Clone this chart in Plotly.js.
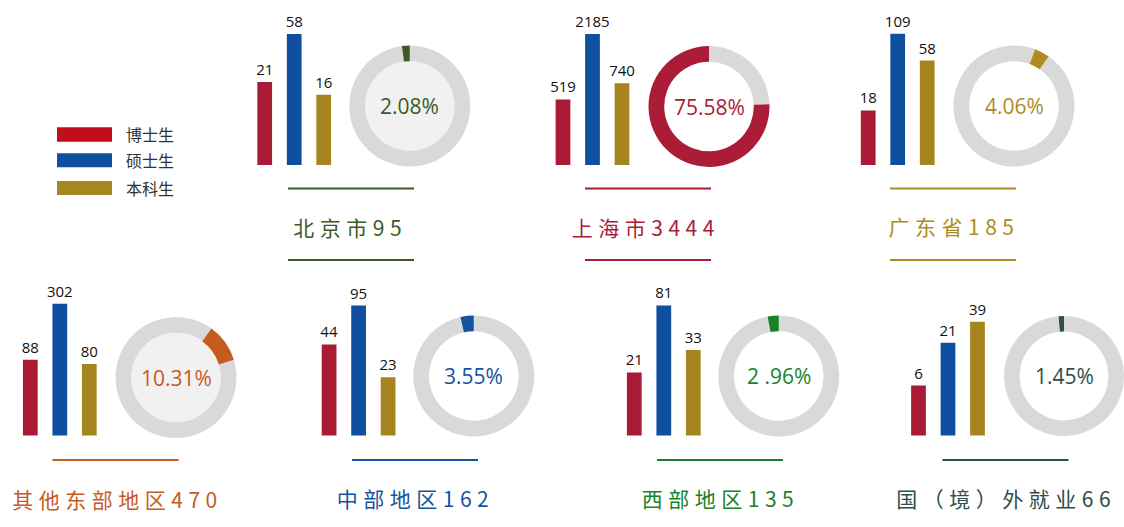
<!DOCTYPE html>
<html>
<head>
<meta charset="utf-8">
<script src="https://cdn.plot.ly/plotly-3.0.1.min.js"></script>
<style>
html,body{margin:0;padding:0;background:#ffffff;}
#chart{width:1124px;height:527px;}
</style>
</head>
<body>
<div id="chart"></div>
<script>
// ---------------- DATA ----------------
const regions = ['北京市', '上海市', '广东省', '其他东部地区', '中部地区', '西部地区', '国（境）外就业'];
const totals = [95, 3444, 185, 470, 162, 135, 66];
const phd = [21, 519, 18, 88, 44, 21, 6];
const master = [58, 2185, 109, 302, 95, 81, 21];
const bachelor = [16, 740, 58, 80, 23, 33, 39];
const shares = [2.08, 75.58, 4.06, 10.31, 3.55, 2.96, 1.45];
const shareLabels = ['2.08%', '75.58%', '4.06%', '10.31%', '3.55%', '2 .96%', '1.45%'];
const degrees = ['博士生', '硕士生', '本科生'];

// ---------------- STYLE ----------------
const W = 1124, H = 527;
const barColors = ['#aa1a35', '#0f4f9f', '#a6851f'];
const legendColors = ['#c20d1a', '#0f4fa0', '#a6861f'];
const panelColors = ['#3c5a27', '#ab1c37', '#ae8c20', '#c55b1e', '#1552a0', '#17822a', '#2c4e4c'];
const ringGray = '#d9d9d9';
const barCenters = [294.2, 592.5, 897.7, 59.8, 358.6, 663.8, 948];
const barBottoms = [165, 165, 165, 435.5, 435.5, 435.5, 435.5];
const logLo = [0.56, 2.09, 0.7, 1.22, 0.86, 0.77, 0.14];
const pxPerDecade = [108.9, 104.9, 98.2, 104.5, 116.3, 114.2, 78.35];
const plotHeight = 160;
const pitch = 29.5;
const donutCx = [409.8, 709, 1014, 176, 473.8, 778.8, 1064.5];
const donutCy = [106, 106.5, 106, 377.5, 376, 376, 376];
const donutR = 60.5;
const holeRatio = 0.74;
const holeFill = ['#f1f1f1', null, null, '#f1f1f1', null, null, null];
const donutRotation = [0, 0, 35, 73, 0, 0, 0];
const titleCx = [350, 646, 954, 117, 415, 720, 1006];
const titleCy = [227, 227, 226, 499, 498, 498, 498];
const lineCx = [351, 648, 953, 115.5, 415, 720, 1005.5];
const lineYs = [[188.5, 260], [188.5, 260], [188.5, 260], [460], [460], [460], [460]];
const lineHalf = 63;
const legendRects = [[127.3, 141.7], [153.3, 167.3], [181, 195]];
const legendX = [57, 112];
const legendTextX = 124;

const px2x = v => v / W;
const py2y = v => 1 - v / H;
const clamp = v => Math.max(0, Math.min(1, v));

const traces = [];
const layout = {
  width: W, height: H,
  margin: {l: 0, r: 0, t: 0, b: 0},
  paper_bgcolor: '#ffffff',
  plot_bgcolor: 'rgba(0,0,0,0)',
  showlegend: false,
  bargap: 0.5,
  shapes: [],
  annotations: [],
  font: {family: 'Open Sans, Noto Sans CJK SC, sans-serif'}
};

const titleIdx = [];

for (let i = 0; i < regions.length; i++) {
  const n = i + 1;
  const xa = 'xaxis' + (n === 1 ? '' : n);
  const ya = 'yaxis' + (n === 1 ? '' : n);
  const xr = 'x' + (n === 1 ? '' : n);
  const yr = 'y' + (n === 1 ? '' : n);
  const vals = [phd[i], master[i], bachelor[i]];
  traces.push({
    type: 'bar',
    x: degrees,
    y: vals,
    xaxis: xr, yaxis: yr,
    width: 0.5,
    marker: {color: barColors, line: {width: 0}},
    text: vals.map(String),
    textposition: 'outside',
    textangle: 0,
    constraintext: 'none',
    cliponaxis: true,
    textfont: {family: 'Open Sans, sans-serif', size: 15, color: '#111111'},
    hoverinfo: 'none'
  });
  const c = barCenters[i];
  layout[xa] = {
    domain: [px2x(c - 1.5 * pitch), px2x(c + 1.5 * pitch)],
    type: 'category', range: [-0.5, 2.5], visible: false, fixedrange: true,
    anchor: yr
  };
  const b = barBottoms[i];
  layout[ya] = {
    domain: [py2y(b), py2y(b - plotHeight)],
    type: 'log', range: [logLo[i], logLo[i] + plotHeight / pxPerDecade[i]],
    visible: false, fixedrange: true, anchor: xr
  };

  // donut
  const cx = donutCx[i], cy = donutCy[i];
  traces.push({
    type: 'pie',
    values: [100 - shares[i], shares[i]],
    labels: ['其他', regions[i]],
    sort: false,
    direction: 'clockwise',
    rotation: donutRotation[i],
    hole: holeRatio,
    textinfo: 'none',
    hoverinfo: 'none',
    marker: {colors: [ringGray, panelColors[i]], line: {width: 0}},
    domain: {x: [clamp(px2x(cx - donutR)), clamp(px2x(cx + donutR))],
             y: [clamp(py2y(cy + donutR)), clamp(py2y(cy - donutR))]}
  });
  if (holeFill[i]) {
    const ri = donutR * holeRatio;
    layout.shapes.push({
      type: 'circle', xref: 'paper', yref: 'paper', layer: 'below',
      x0: px2x(cx - ri), x1: px2x(cx + ri), y0: py2y(cy + ri), y1: py2y(cy - ri),
      fillcolor: holeFill[i], line: {width: 0}
    });
  }
  layout.annotations.push({
    xref: 'paper', yref: 'paper', x: px2x(cx), y: py2y(cy),
    xanchor: 'center', yanchor: 'middle', showarrow: false,
    text: shareLabels[i],
    font: {family: 'Open Sans, sans-serif', size: 21, color: panelColors[i]}
  });

  // decorative lines
  lineYs[i].forEach(ly => {
    layout.shapes.push({
      type: 'line', xref: 'paper', yref: 'paper',
      x0: px2x(lineCx[i] - lineHalf), x1: px2x(lineCx[i] + lineHalf),
      y0: py2y(ly), y1: py2y(ly),
      line: {color: panelColors[i], width: 1.8}
    });
  });

  // title
  titleIdx.push(layout.annotations.length);
  layout.annotations.push({
    xref: 'paper', yref: 'paper', x: px2x(titleCx[i]), y: py2y(titleCy[i]),
    xanchor: 'center', yanchor: 'middle', showarrow: false,
    text: regions[i] + totals[i],
    font: {family: 'Noto Sans CJK SC, sans-serif', size: 21, color: panelColors[i]}
  });
}

// legend
for (let k = 0; k < degrees.length; k++) {
  const r = legendRects[k];
  layout.shapes.push({
    type: 'rect', xref: 'paper', yref: 'paper',
    x0: px2x(legendX[0]), x1: px2x(legendX[1]), y0: py2y(r[1]), y1: py2y(r[0]),
    fillcolor: legendColors[k], line: {width: 0}
  });
  layout.annotations.push({
    xref: 'paper', yref: 'paper', x: px2x(legendTextX), y: py2y((r[0] + r[1]) / 2),
    xanchor: 'left', yanchor: 'middle', showarrow: false,
    text: degrees[k],
    font: {family: 'Noto Sans CJK SC, sans-serif', size: 16, color: '#333333'}
  });
}

Plotly.newPlot('chart', traces, layout, {staticPlot: true, displayModeBar: false}).then(gd => {
  titleIdx.forEach(idx => {
    const g = gd.querySelector('.annotation[data-index="' + idx + '"] text.annotation-text');
    if (g) g.style.letterSpacing = '5.5px';
  });
});
</script>
</body>
</html>
